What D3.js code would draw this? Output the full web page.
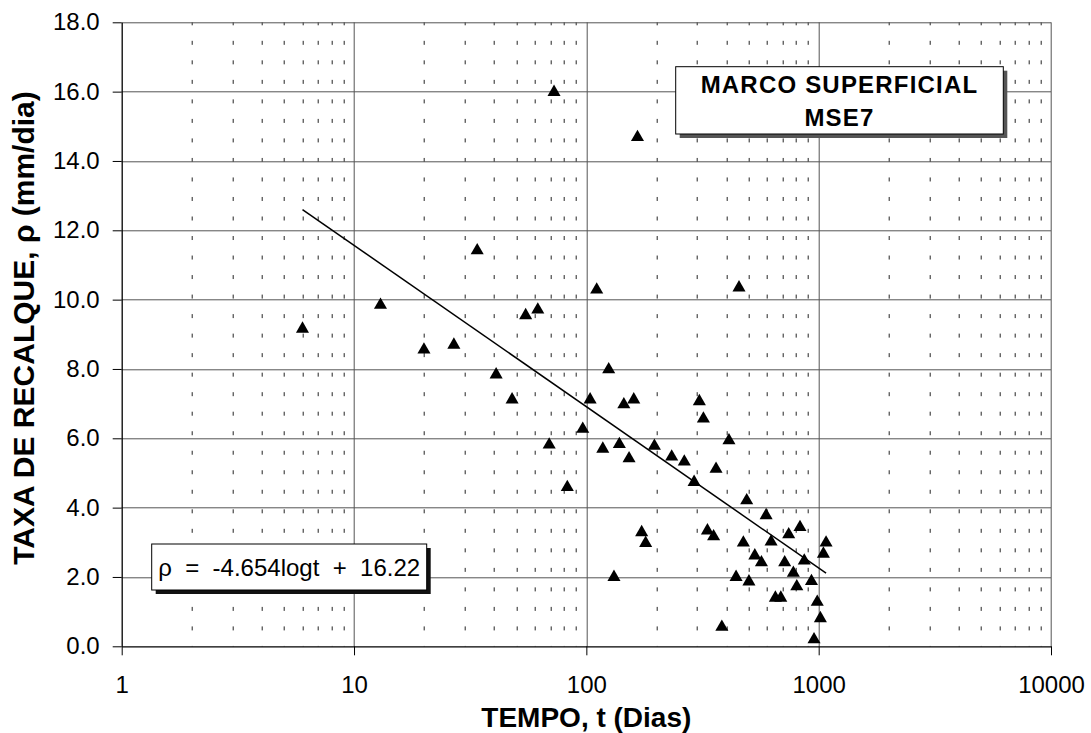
<!DOCTYPE html>
<html>
<head>
<meta charset="utf-8">
<script src="https://cdn.jsdelivr.net/npm/d3@7"></script>
<style>
  body { margin: 0; background: #fff; }
  text { font-family: "Liberation Sans", Arial, sans-serif; fill: #000; }
</style>
</head>
<body>
<svg id="chart"></svg>
<script>
// tempo (dias) e taxa de recalque (mm/dia)
const tempo = [6.0, 13.0, 20.0, 26.9, 33.9, 40.9, 47.9, 54.8, 61.8, 69.2,
    72.6, 82.8, 96.5, 103.8, 110.8, 117.7, 124.8, 131.5, 138.7, 145,
    152.7, 160, 166, 173, 180, 196.3, 233, 264, 291, 306.5,
    319, 332, 353, 361.6, 383, 411, 441, 454, 474, 490,
    501, 531, 567, 594, 624, 651, 687, 714, 743, 778,
    805, 831, 867, 931, 955, 986, 1017, 1048, 1076];
const taxa = [9.17, 9.86, 8.57, 8.71, 11.43, 7.85, 7.13, 9.56, 9.72, 5.83,
    16.0, 4.60, 6.28, 7.13, 10.30, 5.71, 8.00, 2.01, 5.84, 6.99,
    5.43, 7.13, 14.70, 3.30, 2.99, 5.79, 5.48, 5.34, 4.75, 7.08,
    6.58, 3.35, 3.18, 5.13, 0.57, 5.95, 2.01, 10.36, 3.00, 4.22,
    1.88, 2.63, 2.43, 3.79, 3.03, 1.41, 1.41, 2.43, 3.24, 2.13,
    1.74, 3.45, 2.48, 1.89, 0.21, 1.29, 0.82, 2.68, 3.00];

const xticks = [1, 10, 100, 1000, 10000];
const yticks = [0, 2, 4, 6, 8, 10, 12, 14, 16, 18];

// regressao: rho = a*log(t) + b
const coef_a = -4.654;
const coef_b = 16.22;

const title_lines = ['MARCO SUPERFICIAL', 'MSE7'];
const eq_label = 'ρ  =  -4.654logt  +  16.22';
const xlabel = 'TEMPO, t (Dias)';
const ylabel = 'TAXA DE RECALQUE, ρ (mm/dia)';

const width = 1091, height = 733;
const margin = {top: 22.3, right: 40, bottom: 86.7, left: 121.7};
const inner_width = width - margin.left - margin.right;
const inner_height = height - margin.top - margin.bottom;

const svg = d3.select('#chart')
    .attr('width', width)
    .attr('height', height);

const chart = svg.append('g')
    .attr('transform', `translate(${margin.left}, ${margin.top})`);

const xscale = d3.scaleLog()
    .domain([1, 10000])
    .range([0, inner_width]);

const yscale = d3.scaleLinear()
    .domain([0, 18])
    .range([inner_height, 0]);

// minor vertical gridlines (dashed)
const minor = [];
for (let dec = 1; dec < 10000; dec *= 10) {
    for (let k = 2; k <= 9; k++) minor.push(dec * k);
}
chart.append('g').selectAll('line')
    .data(minor)
    .join('line')
    .attr('x1', d => Math.round(xscale(d)) + 0.5)
    .attr('x2', d => Math.round(xscale(d)) + 0.5)
    .attr('y1', 0)
    .attr('y2', inner_height)
    .attr('stroke', '#222')
    .attr('stroke-width', 1)
    .attr('stroke-dasharray', '4,15.52')
    .attr('stroke-dashoffset', 1);

// major gridlines
chart.append('g').selectAll('line')
    .data(yticks.slice(1))
    .join('line')
    .attr('x1', 0)
    .attr('x2', inner_width)
    .attr('y1', d => Math.round(yscale(d)) + 0.5)
    .attr('y2', d => Math.round(yscale(d)) + 0.5)
    .attr('stroke', '#555')
    .attr('stroke-width', 1);

chart.append('g').selectAll('line')
    .data(xticks.slice(1))
    .join('line')
    .attr('x1', d => Math.round(xscale(d)) + 0.5)
    .attr('x2', d => Math.round(xscale(d)) + 0.5)
    .attr('y1', 0)
    .attr('y2', inner_height)
    .attr('stroke', '#555')
    .attr('stroke-width', 1);

// axes
const xaxis = d3.axisBottom(xscale)
    .tickValues(xticks)
    .tickFormat(d3.format('d'))
    .tickSize(9)
    .tickSizeOuter(0);

const yaxis = d3.axisLeft(yscale)
    .tickValues(yticks)
    .tickFormat(d3.format('.1f'))
    .tickSize(9)
    .tickPadding(13)
    .tickSizeOuter(0);

const xaxis_group = chart.append('g')
    .attr('transform', `translate(0, ${inner_height})`)
    .call(xaxis);
xaxis_group.selectAll('text')
    .attr('y', 47)
    .attr('dy', 0)
    .style('font-size', '24px');

const yaxis_group = chart.append('g')
    .call(yaxis);
yaxis_group.selectAll('text')
    .style('font-size', '24px');

[xaxis_group, yaxis_group].forEach(g => {
    g.selectAll('.domain').attr('stroke', '#000').attr('stroke-width', 1.3);
    g.selectAll('.tick line').attr('stroke', '#000');
    g.selectAll('text').style('font-family', '"Liberation Sans", Arial, sans-serif');
});

// trendline
const tmin = d3.min(tempo), tmax = d3.max(tempo);
const trend = [tmin, tmax].map(t => ({t: t, r: coef_a * Math.log10(t) + coef_b}));
chart.append('path')
    .attr('d', d3.line().x(d => xscale(d.t)).y(d => yscale(d.r))(trend))
    .attr('stroke', '#000')
    .attr('stroke-width', 1.5)
    .attr('fill', 'none');

// points
const points = tempo.map((t, i) => ({t: t, r: taxa[i]}));
chart.append('g').selectAll('path')
    .data(points)
    .join('path')
    .attr('transform', d => `translate(${xscale(d.t)}, ${yscale(d.r) + 0.5})`)
    .attr('d', d3.symbol(d3.symbolTriangle, 74))
    .attr('fill', '#000');

// equation box
const eq = {x: 151.7, y: 544, w: 275, h: 46};
svg.append('rect')
    .attr('x', eq.x + 4).attr('y', eq.y + 4)
    .attr('width', eq.w).attr('height', eq.h)
    .attr('fill', '#111');
svg.append('rect')
    .attr('x', eq.x).attr('y', eq.y)
    .attr('width', eq.w).attr('height', eq.h)
    .attr('fill', '#fff')
    .attr('stroke', '#000');
svg.append('text')
    .attr('x', eq.x + eq.w / 2)
    .attr('y', eq.y + 32)
    .attr('text-anchor', 'middle')
    .style('white-space', 'pre')
    .style('font-size', '24px')
    .text(eq_label);

// title box
const tb = {x: 675.7, y: 66.7, w: 327.6, h: 67.3};
svg.append('rect')
    .attr('x', tb.x + 4).attr('y', tb.y + 4)
    .attr('width', tb.w).attr('height', tb.h)
    .attr('fill', '#555');
svg.append('rect')
    .attr('x', tb.x).attr('y', tb.y)
    .attr('width', tb.w).attr('height', tb.h)
    .attr('fill', '#fff')
    .attr('stroke', '#000');
svg.append('text')
    .attr('text-anchor', 'middle')
    .style('font-size', '24px')
    .style('font-weight', 'bold')
    .style('letter-spacing', '1.2px')
    .selectAll('tspan')
    .data(title_lines)
    .join('tspan')
    .attr('x', tb.x + tb.w / 2)
    .attr('y', (d, i) => tb.y + 26 + i * 33.5)
    .text(d => d);

// axis labels
svg.append('text')
    .attr('x', margin.left + inner_width / 2)
    .attr('y', 727)
    .attr('text-anchor', 'middle')
    .style('font-size', '28px')
    .style('font-weight', 'bold')
    .text(xlabel);

svg.append('text')
    .attr('transform', 'rotate(-90)')
    .attr('x', -328)
    .attr('y', 34)
    .attr('text-anchor', 'middle')
    .style('font-size', '30px')
    .style('font-weight', 'bold')
    .text(ylabel);
</script>
</body>
</html>
